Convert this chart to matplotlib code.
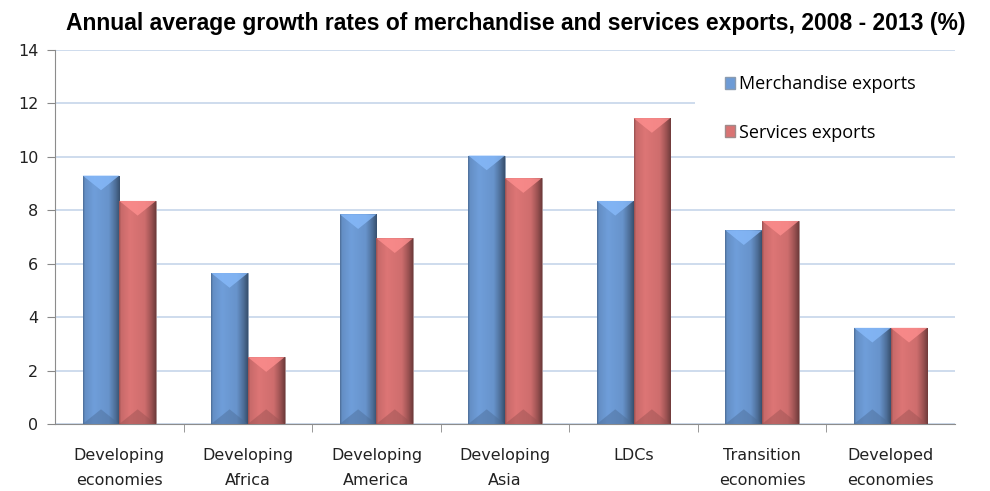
import numpy as np
import matplotlib.pyplot as plt
from matplotlib.patches import Polygon, Patch, Rectangle
from matplotlib.colors import to_rgb

categories = ["Developing\neconomies", "Developing\nAfrica", "Developing\nAmerica",
              "Developing\nAsia", "LDCs", "Transition\neconomies", "Developed\neconomies"]
merchandise = [9.3, 5.65, 7.85, 10.05, 8.35, 7.25, 3.6]
services = [8.35, 2.5, 6.95, 9.2, 11.45, 7.6, 3.6]
series_names = ["Merchandise exports", "Services exports"]

blue = "#6d9bd6"
red = "#d97373"


def shade(ax, patch, base):
    # horizontal bevel shading clipped to the bar, plus light/dark chevrons
    x0, w, h = patch.get_x(), patch.get_width(), patch.get_height()
    c = np.array(to_rgb(base))
    t = np.linspace(0, 1, 60)
    f = np.interp(t, [0, 0.05, 0.3, 0.7, 0.88, 1.0], [0.72, 0.92, 1.02, 0.95, 0.72, 0.52])
    rgb = np.clip(c[None, :] * f[:, None], 0, 1)
    im = ax.imshow(rgb[None, :, :], extent=(x0, x0 + w, 0, h), aspect="auto", zorder=3,
                   interpolation="bilinear")
    im.set_clip_path(patch)
    d = 0.55
    top = Polygon([(x0, h), (x0 + w, h), (x0 + w / 2, h - d)], closed=True,
                  facecolor=np.clip(c * 1.1 + 0.06, 0, 1), edgecolor="none",
                  alpha=0.8, zorder=4)
    bot = Polygon([(x0, 0), (x0 + w, 0), (x0 + w / 2, d)], closed=True,
                  facecolor=c * 0.7, edgecolor="none", alpha=0.45, zorder=4)
    ax.add_patch(top)
    ax.add_patch(bot)


fig = plt.figure(figsize=(9.9, 4.91), dpi=100)
ax = fig.add_axes([0.0556, 0.1365, 0.909, 0.7617])

x = np.arange(len(categories))
w = 0.285
b1 = ax.bar(x - w / 2, merchandise, w, color=blue, edgecolor="#8a9bb0", linewidth=0.6, zorder=2)
b2 = ax.bar(x + w / 2, services, w, color=red, edgecolor="#a08a8a", linewidth=0.6, zorder=2)
for p in b1:
    shade(ax, p, blue)
for p in b2:
    shade(ax, p, red)

ax.set_xlim(-0.5, len(categories) - 0.5)
ax.set_ylim(0, 14)
ax.set_yticks(range(0, 15, 2))
ax.yaxis.grid(True, color="#c6d5ea", linewidth=1.2, zorder=0)
ax.set_axisbelow(True)

ax.set_xticks(x)
ax.set_xticklabels(categories, fontsize=11.5, color="#222222", linespacing=1.85)
ax.tick_params(axis="x", length=0, pad=17)
ax.set_xticks(np.arange(0.5, len(categories) - 0.5), minor=True)
ax.tick_params(axis="x", which="minor", length=6, color="#888888")
ax.tick_params(axis="y", length=6, color="#888888", labelsize=11.5, labelcolor="#222222", pad=6)

for s in ["top", "right"]:
    ax.spines[s].set_visible(False)
for s in ["left", "bottom"]:
    ax.spines[s].set_color("#8c8c8c")

# white box behind the legend hides the gridline at 12 on the right
ax.add_patch(Rectangle((0.711, 0.733), 0.3, 0.25, transform=ax.transAxes, facecolor="white",
                       edgecolor="none", zorder=1.5, clip_on=False))
handles = [Patch(facecolor=blue, edgecolor="#8a9bb0"), Patch(facecolor=red, edgecolor="#a08a8a")]
leg = ax.legend(handles, series_names, loc="upper left", bbox_to_anchor=(0.738, 0.947),
                frameon=False, prop={"family": "Open Sans", "size": 13}, handlelength=0.6,
                handleheight=0.6, handletextpad=0.2, labelspacing=1.68, borderpad=0.3,
                borderaxespad=0)
leg.set_zorder(5)

fig.text(0.521, 0.953, "Annual average growth rates of merchandise and services exports, 2008 - 2013 (%)",
         ha="center", va="center", fontsize=16.5, fontweight="bold", family="Liberation Sans")

fig.savefig("out.png", dpi=100)
